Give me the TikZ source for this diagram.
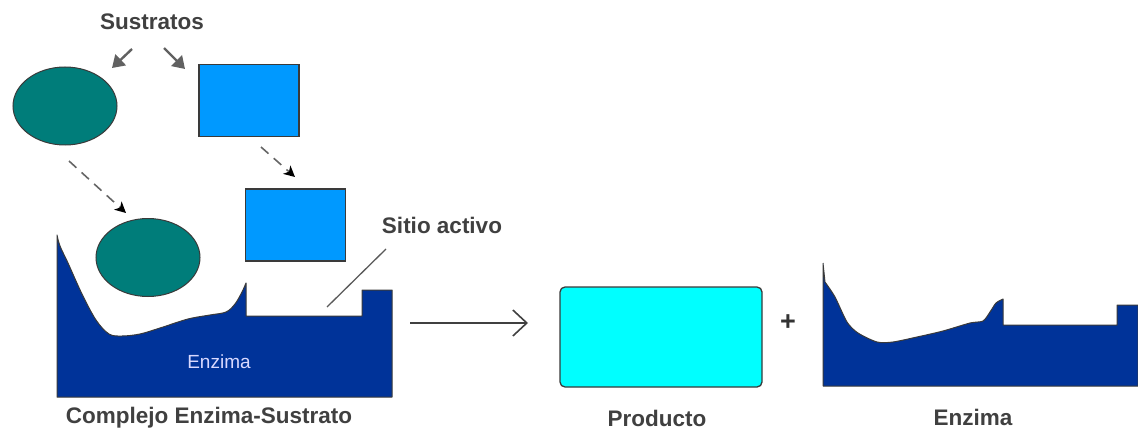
\documentclass[tikz,border=0pt]{standalone}
\usepackage{fontspec}
\setmainfont{Liberation Sans}
\usetikzlibrary{arrows.meta,shapes.geometric}
\definecolor{txtgray}{HTML}{404040}
\definecolor{tealfill}{HTML}{007D7A}
\definecolor{blockblue}{HTML}{0099FF}
\definecolor{enzblue}{HTML}{003399}
\definecolor{prodcyan}{HTML}{00FFFF}
\definecolor{edge}{HTML}{3A3A3A}
\begin{document}
\begin{tikzpicture}[x=1pt,y=-1pt,
  lbl/.style={text=txtgray,font=\fontsize{22.5}{26}\selectfont\bfseries,inner sep=0pt},
  subst/.style={ellipse,fill=tealfill,draw=edge,line width=1pt,minimum width=104pt,minimum height=78pt,inner sep=0pt},
  block/.style={rectangle,fill=blockblue,draw=edge,line width=1.3pt,minimum width=100pt,minimum height=72pt,inner sep=0pt},
  enzfill/.style={fill=enzblue,draw=edge,line width=1pt,line join=round},
  grayarrow/.style={draw=black!62,line width=2.4pt,-{Triangle[length=12pt,width=15pt]}},
  dasharrow/.style={draw=black!60,line width=1.6pt,dash pattern=on 10pt off 7pt,-{Stealth[length=11pt,width=11pt,inset=3pt,color=black]}},
  reaction/.style={draw=black!75,line width=1.6pt,-{Straight Barb[length=14pt,width=26pt,line width=1.6pt]}}
]
\useasboundingbox (0,0) rectangle (1138,433);

% title and the two free substrates
\node[lbl] (sust) at (152,22) {Sustratos};
\node[subst] (s1) at (65,106) {};
\node[block] (s2) at (249,100.5) {};

% arrows from the title to the substrates
\coordinate (g1a) at (132,49);  \coordinate (g1b) at (112,68);
\coordinate (g2a) at (164,48);  \coordinate (g2b) at (185,69);
\draw[grayarrow] (g1a) -- (g1b);
\draw[grayarrow] (g2a) -- (g2b);

% enzyme-substrate complex: enzyme body
\path[enzfill] (57,235) -- (57,397) -- (392,397) -- (392,290) -- (362,290) -- (362,316)
  -- (246,316) -- (246,283)
  -- plot[smooth,tension=0.55] coordinates {(246,283) (242,292) (235,304) (226,312) (210,315)
     (188,319) (160,328) (140,334) (122,336) (109,334) (96,320) (82,294) (68,263) (60,246) (57,235)}
  -- cycle;
\node[text=white!85!blue,font=\fontsize{19}{21}\selectfont,inner sep=0pt] (enzlbl) at (219,362) {Enzima};

% substrates bound in the complex
\node[subst] (s1b) at (148,257.5) {};
\node[block] (s2b) at (295.5,225) {};

% dashed moves of the substrates into place
\coordinate (d1a) at (69,161);  \coordinate (d1b) at (126,213);
\coordinate (d2a) at (261,147); \coordinate (d2b) at (295,177);
\draw[dasharrow] (d1a) -- (d1b);
\draw[dasharrow] (d2a) -- (d2b);

% active-site callout
\node[lbl] (sitio) at (442,225) {Sitio activo};
\coordinate (siteA) at (386,249); \coordinate (siteB) at (327,307);
\draw[black!65,line width=1.3pt] (siteA) -- (siteB);

\node[lbl] (compl) at (209,418) {Complejo Enzima-Sustrato};

% reaction arrow
\coordinate (rxA) at (410,323); \coordinate (rxB) at (528,323);
\draw[reaction] (rxA) -- (rxB);

% product
\node[rectangle,rounded corners=5pt,fill=prodcyan,draw=edge,line width=1.3pt,
      minimum width=202pt,minimum height=100pt,inner sep=0pt] (prod) at (661,337) {};
\node[lbl] (prodlbl) at (657,418) {Producto};

\node[text=black!80,font=\fontsize{27}{29}\selectfont\bfseries,inner sep=0pt] (plus) at (788,323) {+};

% free enzyme
\path[enzfill] (823,263) -- (823,386) -- (1138,386) -- (1138,305) -- (1117,305) -- (1117,325)
  -- (1003,325) -- (1003,299)
  -- plot[smooth,tension=0.45] coordinates {(1003,299) (996,303) (990,312) (983,321) (970,323)
     (943,331) (917,337) (893,342) (877,342) (858,333) (847,322) (835,297) (825,282)}
  -- (823,263);
\node[lbl] (enzlbl2) at (973,417) {Enzima};
\end{tikzpicture}
\end{document}
